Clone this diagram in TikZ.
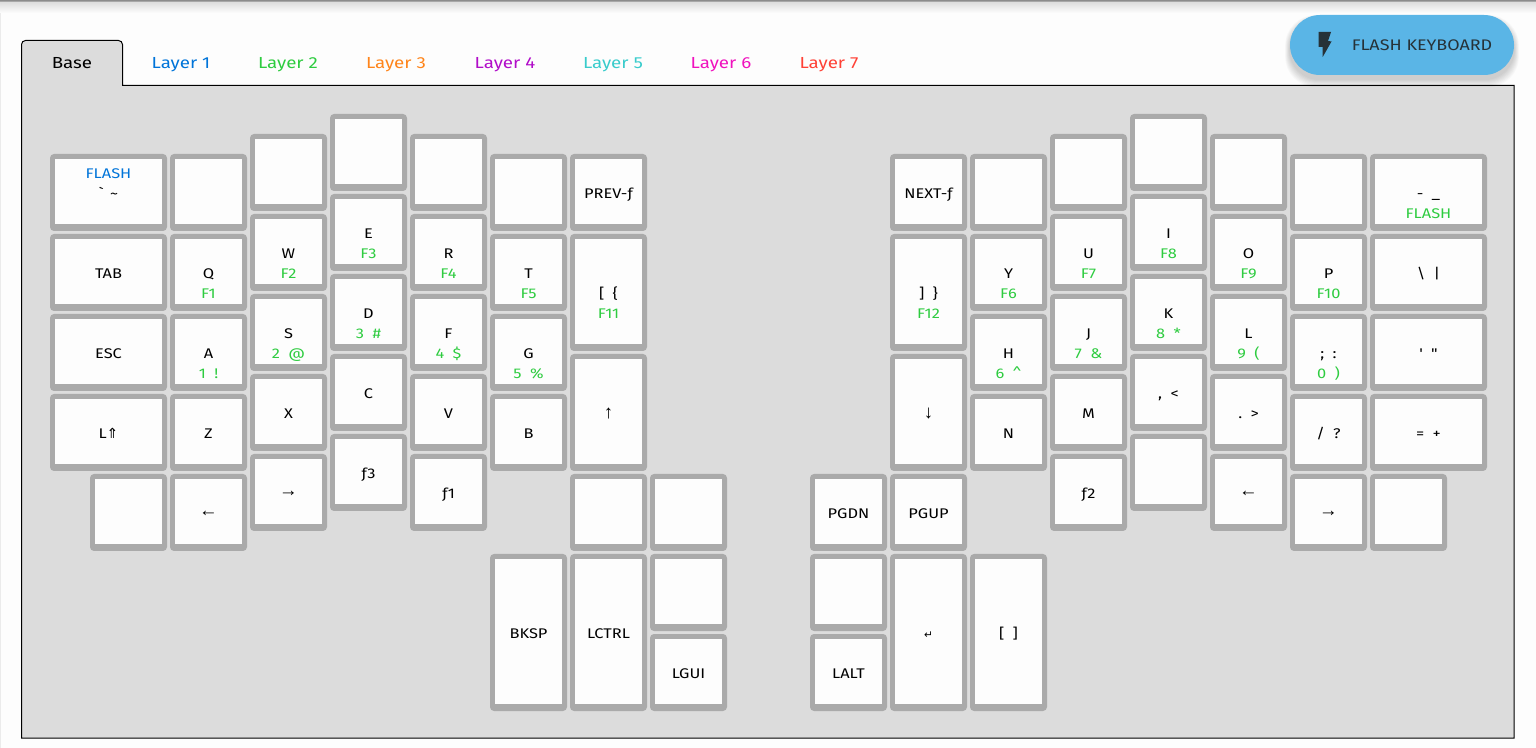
\documentclass[tikz,border=0pt]{standalone}
\usepackage{fontspec}
\newfontfamily\keyfont{Fira Sans}[FakeStretch=1.17]
\newfontfamily\symfont{DejaVu Sans}
\newfontfamily\arwfont{Liberation Sans}
\usetikzlibrary{shadings}
\definecolor{pagebg}{HTML}{FDFDFD}
\definecolor{panelbg}{HTML}{DCDCDC}
\definecolor{keyrim}{HTML}{AAAAAA}
\definecolor{keyface}{HTML}{FDFDFD}
\definecolor{lblue}{HTML}{0074D9}
\definecolor{lgreen}{HTML}{2ECC40}
\definecolor{lorange}{HTML}{FF851B}
\definecolor{lpurple}{HTML}{B10DC9}
\definecolor{lteal}{HTML}{39CCCC}
\definecolor{lpink}{HTML}{F012BE}
\definecolor{lred}{HTML}{FF4136}
\definecolor{btnblue}{HTML}{5AB5E6}
\definecolor{btntext}{HTML}{263238}
\tikzset{
  keyframe/.style={anchor=north west,fill=keyrim,draw=none,rounded corners=3pt,inner sep=0,outer sep=0},
  keytop/.style={anchor=north west,fill=keyface,draw=none,inner sep=0,outer sep=0},
  legend/.style={anchor=base,inner sep=0,outer sep=0,font=\keyfont\fontsize{10.5}{12}\selectfont,text=black},
  greenleg/.style={legend,text=lgreen},
  blueleg/.style={legend,text=lblue},
  tabtext/.style={anchor=base,inner sep=0,outer sep=0,font=\keyfont\fontsize{12}{14}\selectfont},
}
\newcommand{\gp}{\hspace{0.6em}}
\newcommand{\ff}{ƒ}
\newcommand{\arw}[1]{{\arwfont\fontsize{14}{15}\selectfont #1}}
\newcommand{\arh}[1]{\raisebox{1.5pt}{\arw{#1}}}
% name, x, y, w, h, main legend
\newcommand{\kkey}[6]{%
  \node[keyframe,minimum width=#4*0.75pt,minimum height=#5*0.75pt] (#1) at (#2,#3) {};
  \node[keytop,minimum width=(#4-10)*0.75pt,minimum height=(#5-12)*0.75pt] (#1f) at (#2+5,#3+5) {};
  \node[legend,yshift=-4.9pt] (#1m) at (#1f.center) {#6};
}
% secondary legends
\newcommand{\lowleg}[2]{\node[greenleg,yshift=-19.9pt] (#1b) at (#1f.center) {#2};}
\begin{document}
\begin{tikzpicture}[x=0.75pt,y=-0.75pt]
\useasboundingbox (0,0) rectangle (1536,748);
\fill[pagebg] (0,0) rectangle (1536,748);
\fill[black!8] (0,0) rectangle (1,748);
\shade[top color=black!45,bottom color=black!12] (0,0) rectangle (1536,3);
\shade[top color=black!12,bottom color=pagebg] (0,3) rectangle (1536,13);
% panel and tab
\path[fill=panelbg,draw=black,line width=0.75pt,rounded corners=3pt] (21.5,85.5) -- (21.5,40.5) -- (122.5,40.5) [sharp corners] -- (122.5,85.5) -- (1514,85.5) -- (1514,738) -- (21.5,738) -- cycle;
\node[tabtext] (tab0) at (72,69) {Base};
\node[tabtext,text=lblue] (tab1) at (181,69) {Layer 1};
\node[tabtext,text=lgreen] (tab2) at (288,69) {Layer 2};
\node[tabtext,text=lorange] (tab3) at (396,69) {Layer 3};
\node[tabtext,text=lpurple] (tab4) at (505,69) {Layer 4};
\node[tabtext,text=lteal] (tab5) at (613,69) {Layer 5};
\node[tabtext,text=lpink] (tab6) at (721,69) {Layer 6};
\node[tabtext,text=lred] (tab7) at (829,69) {Layer 7};
% button with soft shadow
\foreach \s in {8,7,...,1}
  \fill[black,opacity=0.025,rounded corners=22.5pt] (1290-\s*0.6,15+5-\s*0.6) rectangle (1514+\s*0.6,75+4+\s);
\node[anchor=north west,fill=btnblue,rounded corners=22.5pt,minimum width=168pt,minimum height=45pt,inner sep=0,outer sep=0] (btn) at (1290,15) {};
\fill[btntext] (1318.7,32) -- (1331,32) -- (1328,41) -- (1331.5,41.5) -- (1322.7,57) -- (1322.5,47) -- (1318.7,47) -- cycle;
\node[anchor=base,inner sep=0,font=\keyfont\fontsize{11.5}{13}\selectfont,text=btntext] (btnlabel) at (1422,50.5) {FLASH KEYBOARD};
% left hand
\kkey{a1}{50}{154}{117}{77}{`\hspace{0.45em}\textasciitilde}
\node[blueleg,yshift=10.1pt] (a1t) at (a1f.center) {FLASH};
\kkey{a2}{170}{154}{77}{77}{}
\kkey{a3}{250}{134}{77}{77}{}
\kkey{a4}{330}{114}{77}{77}{}
\kkey{a5}{410}{134}{77}{77}{}
\kkey{a6}{490}{154}{77}{77}{}
\kkey{a7}{570}{154}{77}{77}{PREV-\ff}
\kkey{b1}{50}{234}{117}{77}{TAB}
\kkey{b2}{170}{234}{77}{77}{Q}\lowleg{b2}{F1}
\kkey{b3}{250}{214}{77}{77}{W}\lowleg{b3}{F2}
\kkey{b4}{330}{194}{77}{77}{E}\lowleg{b4}{F3}
\kkey{b5}{410}{214}{77}{77}{R}\lowleg{b5}{F4}
\kkey{b6}{490}{234}{77}{77}{T}\lowleg{b6}{F5}
\kkey{b7}{570}{234}{77}{117}{[\gp\{}\lowleg{b7}{F11}
\kkey{c1}{50}{314}{117}{77}{ESC}
\kkey{c2}{170}{314}{77}{77}{A}\lowleg{c2}{1\gp!}
\kkey{c3}{250}{294}{77}{77}{S}\lowleg{c3}{2\gp@}
\kkey{c4}{330}{274}{77}{77}{D}\lowleg{c4}{3\gp\#}
\kkey{c5}{410}{294}{77}{77}{F}\lowleg{c5}{4\gp\$}
\kkey{c6}{490}{314}{77}{77}{G}\lowleg{c6}{5\gp\%}
\kkey{c7}{570}{354}{77}{117}{\arw{↑}}
\kkey{d1}{50}{394}{117}{77}{L{\symfont ⇑}}
\kkey{d2}{170}{394}{77}{77}{Z}
\kkey{d3}{250}{374}{77}{77}{X}
\kkey{d4}{330}{354}{77}{77}{C}
\kkey{d5}{410}{374}{77}{77}{V}
\kkey{d6}{490}{394}{77}{77}{B}
\kkey{e1}{90}{474}{77}{77}{}
\kkey{e2}{170}{474}{77}{77}{\arh{←}}
\kkey{e3}{250}{454}{77}{77}{\arh{→}}
\kkey{e4}{330}{434}{77}{77}{\ff3}
\kkey{e5}{410}{454}{77}{77}{\ff1}
\kkey{e6}{570}{474}{77}{77}{}
\kkey{e7}{650}{474}{77}{77}{}
\kkey{f1}{490}{554}{77}{157}{BKSP}
\kkey{f2}{570}{554}{77}{157}{LCTRL}
\kkey{f3}{650}{554}{77}{77}{}
\kkey{f4}{650}{634}{77}{77}{LGUI}
% right hand
\kkey{g1}{890}{154}{77}{77}{NEXT-\ff}
\kkey{g2}{970}{154}{77}{77}{}
\kkey{g3}{1050}{134}{77}{77}{}
\kkey{g4}{1130}{114}{77}{77}{}
\kkey{g5}{1210}{134}{77}{77}{}
\kkey{g6}{1290}{154}{77}{77}{}
\kkey{g7}{1370}{154}{117}{77}{-\gp\_}\lowleg{g7}{FLASH}
\kkey{h1}{890}{234}{77}{117}{]\gp\}}\lowleg{h1}{F12}
\kkey{h2}{970}{234}{77}{77}{Y}\lowleg{h2}{F6}
\kkey{h3}{1050}{214}{77}{77}{U}\lowleg{h3}{F7}
\kkey{h4}{1130}{194}{77}{77}{I}\lowleg{h4}{F8}
\kkey{h5}{1210}{214}{77}{77}{O}\lowleg{h5}{F9}
\kkey{h6}{1290}{234}{77}{77}{P}\lowleg{h6}{F10}
\kkey{h7}{1370}{234}{117}{77}{\textbackslash\gp|}
\kkey{i2}{970}{314}{77}{77}{H}\lowleg{i2}{6\gp\textasciicircum}
\kkey{i3}{1050}{294}{77}{77}{J}\lowleg{i3}{7\gp\&}
\kkey{i4}{1130}{274}{77}{77}{K}\lowleg{i4}{8\gp*}
\kkey{i5}{1210}{294}{77}{77}{L}\lowleg{i5}{9\gp(}
\kkey{i6}{1290}{314}{77}{77}{;\gp:}\lowleg{i6}{0\gp)}
\kkey{i7}{1370}{314}{117}{77}{'\gp"}
\kkey{j1}{890}{354}{77}{117}{\arw{↓}}
\kkey{j2}{970}{394}{77}{77}{N}
\kkey{j3}{1050}{374}{77}{77}{M}
\kkey{j4}{1130}{354}{77}{77}{,\gp<}
\kkey{j5}{1210}{374}{77}{77}{.\gp>}
\kkey{j6}{1290}{394}{77}{77}{/\gp?}
\kkey{j7}{1370}{394}{117}{77}{=\gp+}
\kkey{k3}{1050}{454}{77}{77}{\ff2}
\kkey{k4}{1130}{434}{77}{77}{}
\kkey{k5}{1210}{454}{77}{77}{\arh{←}}
\kkey{k6}{1290}{474}{77}{77}{\arh{→}}
\kkey{k7}{1370}{474}{77}{77}{}
\kkey{l1}{810}{474}{77}{77}{PGDN}
\kkey{l2}{890}{474}{77}{77}{PGUP}
\kkey{m1}{810}{554}{77}{77}{}
\kkey{m2}{810}{634}{77}{77}{LALT}
\kkey{m3}{890}{554}{77}{157}{{\symfont\fontsize{8}{9}\selectfont ↵}}
\kkey{m4}{970}{554}{77}{157}{[\gp]}
\end{tikzpicture}
\end{document}
